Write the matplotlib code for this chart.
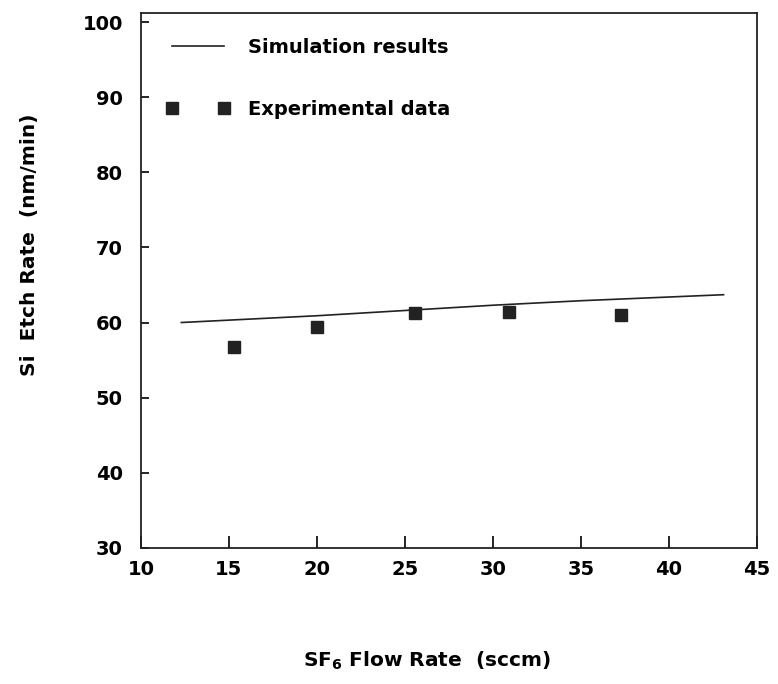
import matplotlib
matplotlib.use("Agg")
import matplotlib.pyplot as plt

# SF6 flow (sccm) vs Si etch rate (nm/min)
sim_flow = [12.3, 20.0, 25.0, 30.0, 35.0, 43.1]
sim_rate = [60.0, 60.9, 61.6, 62.3, 62.9, 63.7]

exp_flow = [15.3, 20.0, 25.6, 30.9, 37.3]
exp_rate = [56.7, 59.4, 61.3, 61.4, 61.0]

xticks = [10, 15, 20, 25, 30, 35, 40, 45]
yticks = [30, 40, 50, 60, 70, 80, 90, 100]

plt.rcParams["font.family"] = ["DejaVu Sans"]
plt.rcParams["font.weight"] = "bold"

fig = plt.figure(figsize=(7.78, 6.84), dpi=100)
ax = fig.add_axes([0.181, 0.199, 0.792, 0.782])

ax.plot(sim_flow, sim_rate, color="#222", lw=1.2, label="Simulation results")
ax.plot(exp_flow, exp_rate, ls="none", marker="s", ms=8.5, color="#222",
        label="Experimental data")

ax.set_xlim(10, 45)
ax.set_ylim(30, 101.2)
ax.set_xticks(xticks)
ax.set_yticks(yticks)
ax.tick_params(axis="x", direction="in", length=9, width=1.2, pad=9,
               labelsize=14)
ax.tick_params(axis="y", direction="in", length=6, width=1.2, pad=13,
               labelsize=14)
for s in ax.spines.values():
    s.set_linewidth(1.3)
    s.set_color("#222")

ax.set_xlabel("SF$_\\mathbf{6}$ Flow Rate  (sccm)", fontsize=14.5,
              fontweight="bold")
ax.xaxis.set_label_coords(0.464, -0.19)
ax.set_ylabel("Si  Etch Rate  (nm/min)", fontsize=14.5, fontweight="bold")
ax.yaxis.set_label_coords(-0.166, 0.566)

ax.legend(loc="upper left", frameon=False, numpoints=2, fontsize=14,
          handlelength=3.3, handletextpad=0.9, labelspacing=2.2,
          borderaxespad=0.9)

fig.savefig("out.png", dpi=100)
